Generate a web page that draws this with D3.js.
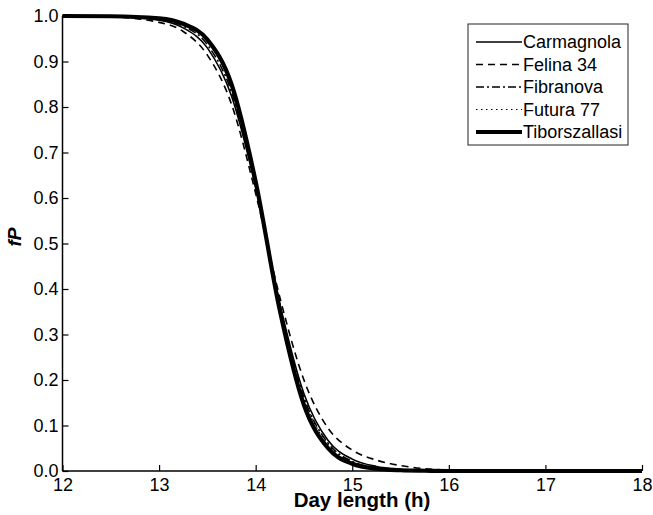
<!DOCTYPE html>
<html>
<head>
<meta charset="utf-8">
<script src="https://cdn.jsdelivr.net/npm/d3@7"></script>
<style>
  body { margin: 0; background: #fff; }
  svg { display: block; font-family: "Liberation Sans", Arial, sans-serif; }
</style>
</head>
<body>
<div id="chart"></div>
<script>
'use strict';
// Day length (h) sample points, shared by every series
const dayLength = [12, 12.5, 13, 13.25, 13.5, 13.75, 14, 14.25, 14.5, 14.75, 15, 15.25, 15.5, 15.75, 16, 17, 18]

// fP values
const carmagnola = [1.000, 0.999, 0.991, 0.974, 0.930, 0.824, 0.623, 0.368, 0.170, 0.067, 0.026, 0.010, 0.004, 0.0015, 0.0005, 0, 0]
const felina34 = [1.000, 0.998, 0.986, 0.966, 0.914, 0.806, 0.610, 0.382, 0.200, 0.094, 0.046, 0.024, 0.012, 0.005, 0.002, 0, 0]
const fibranova = [1.000, 0.999, 0.992, 0.978, 0.937, 0.833, 0.628, 0.362, 0.161, 0.061, 0.021, 0.007, 0.0025, 0.001, 0.0003, 0, 0]
const futura77 = [1.000, 0.9994, 0.994, 0.981, 0.945, 0.847, 0.642, 0.368, 0.159, 0.058, 0.020, 0.0064, 0.002, 0.0008, 0.0002, 0, 0]
const tiborszallasi = [1.000, 0.9995, 0.995, 0.983, 0.948, 0.850, 0.636, 0.353, 0.145, 0.050, 0.016, 0.005, 0.0016, 0.0005, 0, 0, 0]

const seriesNames = ['Carmagnola', 'Felina 34', 'Fibranova', 'Futura 77', 'Tiborszallasi']
const seriesValues = [carmagnola, felina34, fibranova, futura77, tiborszallasi]
const xTicks = [12, 13, 14, 15, 16, 17, 18]
const yTicks = [0, 0.1, 0.2, 0.3, 0.4, 0.5, 0.6, 0.7, 0.8, 0.9, 1.0]

// line styles per series
const styles = [
    { width: 1.6, dash: null },
    { width: 1.6, dash: '7,5' },
    { width: 1.6, dash: '8,3,2,3' },
    { width: 1.2, dash: '1.5,3.5' },
    { width: 4.2, dash: null }
]

const W = 653, H = 515
const margin = { top: 16, right: 11, bottom: 44, left: 62.5 }
const x = d3.scaleLinear().domain([12, 18]).range([margin.left, W - margin.right])
const y = d3.scaleLinear().domain([0, 1]).range([H - margin.bottom, margin.top])

const svg = d3.select('#chart').append('svg')
    .attr('width', W)
    .attr('height', H)

// Curves
const line = d3.line()
    .x(d => x(d[0]))
    .y(d => y(d[1]))
    .curve(d3.curveMonotoneX)

seriesValues.forEach((vals, i) => {
    const pts = dayLength.map((d, j) => [d, vals[j]])
    svg.append('path').datum(pts)
        .attr('d', line)
        .attr('fill', 'none')
        .attr('stroke', '#000')
        .attr('stroke-width', styles[i].width)
        .attr('stroke-dasharray', styles[i].dash)
})

// x axis (ticks point inward)
const xAxis = svg.append('g')
    .attr('transform', `translate(0,${y(0)})`)
    .call(d3.axisBottom(x).tickValues(xTicks).tickSize(-6).tickPadding(7).tickFormat(d3.format('d')))
xAxis.select('.domain').attr('stroke-width', 1.5).attr('d', `M${x(12)},0H${x(18)}`)
xAxis.selectAll('.tick line').attr('stroke-width', 1.2)
xAxis.selectAll('text').attr('font-size', 18).attr('fill', '#000')

// y axis
const yAxis = svg.append('g')
    .attr('transform', `translate(${x(12)},0)`)
    .call(d3.axisLeft(y).tickValues(yTicks).tickSize(-6).tickPadding(4).tickFormat(d3.format('.1f')))
yAxis.select('.domain').attr('stroke-width', 1.5).attr('d', `M0,${y(0)}V${y(1)}`)
yAxis.selectAll('.tick line').attr('stroke-width', 1.2)
yAxis.selectAll('text').attr('font-size', 18).attr('fill', '#000')

// Axis titles
svg.append('text')
    .attr('x', 362)
    .attr('y', 507)
    .attr('text-anchor', 'middle')
    .attr('font-size', 20.5)
    .attr('font-weight', 'bold')
    .text('Day length (h)')

svg.append('text')
    .attr('transform', `translate(21,237) rotate(-90)`)
    .attr('text-anchor', 'middle')
    .attr('font-size', 19)
    .attr('font-weight', 'bold')
    .attr('font-style', 'italic')
    .text('fP')

// Legend
const legend = svg.append('g').attr('transform', 'translate(468,24)')
legend.append('rect')
    .attr('width', 160)
    .attr('height', 121)
    .attr('fill', '#fff')
    .attr('stroke', '#222')
    .attr('stroke-width', 1)
seriesNames.forEach((name, i) => {
    const ly = 18 + i * 22.5
    legend.append('line')
        .attr('x1', 8).attr('x2', 54)
        .attr('y1', ly).attr('y2', ly)
        .attr('stroke', '#000')
        .attr('stroke-width', styles[i].width)
        .attr('stroke-dasharray', styles[i].dash)
    legend.append('text')
        .attr('x', 55)
        .attr('y', ly + 6)
        .attr('font-size', 18)
        .text(name)
})
</script>
</body>
</html>
